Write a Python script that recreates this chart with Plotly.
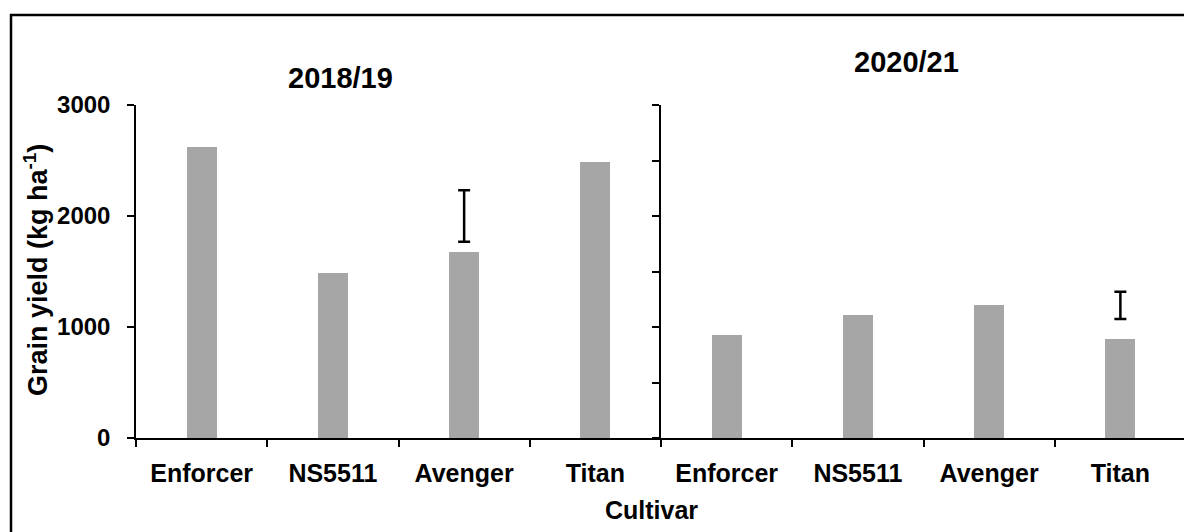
import plotly.graph_objects as go

cultivars = ["Enforcer", "NS5511", "Avenger", "Titan"]
yield_2018 = [2625, 1485, 1675, 2490]
yield_2020 = [925, 1105, 1195, 895]
lsd_cultivar_2018 = ["Avenger"]
lsd_center_2018 = [2000]
lsd_half_2018 = [232]
lsd_cultivar_2020 = ["Titan"]
lsd_center_2020 = [1195]
lsd_half_2020 = [123]
season_titles = ["2018/19", "2020/21"]

W, H = 1184, 532
ML, MR, MT, MB = 136, 0, 105, 94
PW = W - ML - MR
PH = H - MT - MB
FONT = "Arial, Liberation Sans, sans-serif"
BAR = "#a6a6a6"

def px_x(p):
    return (p - ML) / PW

def px_y(p):
    return (H - MB - p) / PH

split = 525 / PW

fig = go.Figure()
fig.add_trace(go.Bar(x=cultivars, y=yield_2018, marker=dict(color=BAR, line=dict(width=0)),
                     width=0.23, xaxis="x", yaxis="y", showlegend=False))
fig.add_trace(go.Bar(x=cultivars, y=yield_2020, marker=dict(color=BAR, line=dict(width=0)),
                     width=0.23, xaxis="x2", yaxis="y2", showlegend=False))
fig.add_trace(go.Scatter(x=lsd_cultivar_2018, y=lsd_center_2018, mode="markers",
                         marker=dict(size=0.1, color="rgba(0,0,0,0)"),
                         error_y=dict(type="data", array=lsd_half_2018, color="black", thickness=2.5, width=6),
                         xaxis="x", yaxis="y", showlegend=False))
fig.add_trace(go.Scatter(x=lsd_cultivar_2020, y=lsd_center_2020, mode="markers",
                         marker=dict(size=0.1, color="rgba(0,0,0,0)"),
                         error_y=dict(type="data", array=lsd_half_2020, color="black", thickness=2.5, width=6),
                         xaxis="x2", yaxis="y2", showlegend=False))

axis_common = dict(showgrid=False, zeroline=False, showline=True, linecolor="black", linewidth=1.5,
                   ticks="outside", tickcolor="black", tickwidth=1.5, ticklen=7)
xtickfont = dict(family=FONT, size=25, color="black", weight="bold")

fig.update_layout(
    width=W, height=H,
    margin=dict(l=ML, r=MR, t=MT, b=MB),
    paper_bgcolor="white", plot_bgcolor="white",
    font=dict(family=FONT, color="black", size=22),
    bargap=0,
    xaxis=dict(domain=[0, split], type="category", categoryorder="array", categoryarray=cultivars,
               range=[-0.5, 3.5], tickson="boundaries", anchor="y", ticklabelstandoff=12,
               tickfont=xtickfont, **axis_common),
    xaxis2=dict(domain=[split, 1], type="category", categoryorder="array", categoryarray=cultivars,
                range=[-0.5, -0.5 + 523 / 131.25], tickson="boundaries", anchor="y2", ticklabelstandoff=12,
                tickfont=xtickfont, **axis_common),
    yaxis=dict(domain=[0, 1], range=[0, 3000], tickvals=[0, 1000, 2000, 3000], anchor="x",
               ticklabelstandoff=12,
               tickfont=dict(family=FONT, size=24, color="black", weight="bold"), **axis_common),
    yaxis2=dict(domain=[0, 1], range=[0, 3000], tickvals=[0, 500, 1000, 1500, 2000, 2500, 3000],
                showticklabels=False, anchor="x2", **axis_common),
)

def label(text, x, y, size, angle=0):
    fig.add_annotation(text="<b>%s</b>" % text, xref="paper", yref="paper",
                       x=px_x(x), y=px_y(y), xanchor="center", yanchor="middle",
                       textangle=angle, showarrow=False,
                       font=dict(family=FONT, size=size, color="black"))

label(season_titles[0], 340, 78, 29)
label(season_titles[1], 906, 62, 29)
label("Cultivar", 651, 510, 25)
label("Grain yield (kg ha<sup>-1</sup>)", 36, 270, 27, angle=-90)

# outer frame
fig.add_shape(type="rect", xref="paper", yref="paper",
              x0=px_x(11), x1=px_x(W + 20), y0=px_y(H + 20), y1=px_y(15),
              line=dict(color="black", width=2.5), fillcolor="rgba(0,0,0,0)", layer="above")

fig.write_html("out.html")
